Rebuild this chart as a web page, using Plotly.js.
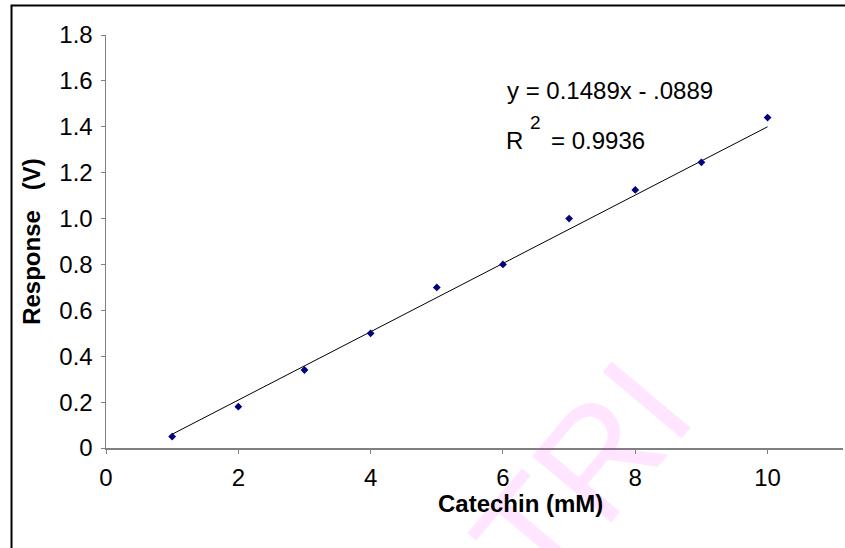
<!DOCTYPE html>
<html>
<head>
<meta charset="utf-8">
<script src="https://cdn.plot.ly/plotly-3.0.1.min.js"></script>
<style>html,body{margin:0;padding:0;background:#fff;}#chart{width:845px;height:548px;}</style>
</head>
<body>
<div id="chart"></div>
<script>
// Data
const catechin = [1, 2, 3, 4, 5, 6, 7, 8, 9, 10];
const response = [0.05, 0.18, 0.34, 0.50, 0.70, 0.80, 1.00, 1.125, 1.245, 1.44];
// Trendline as printed on the chart
const slope = 0.1489;
const intercept = -0.0889;
const trendX = [1, 10];
const trendY = trendX.map(x => slope * x + intercept);
// Tick labels
const xTickVals = [0, 2, 4, 6, 8, 10];
const xTickText = ['0', '2', '4', '6', '8', '10'];
const yTickVals = [0, 0.2, 0.4, 0.6, 0.8, 1.0, 1.2, 1.4, 1.6, 1.8];
const yTickText = ['0', '0.2', '0.4', '0.6', '0.8', '1.0', '1.2', '1.4', '1.6', '1.8'];

const font = 'Arial, "Liberation Sans", Helvetica, sans-serif';

const traces = [
  {
    x: trendX, y: trendY, mode: 'lines', type: 'scatter',
    line: {color: '#000000', width: 1}, hoverinfo: 'skip', showlegend: false
  },
  {
    x: catechin, y: response, mode: 'markers', type: 'scatter',
    marker: {symbol: 'diamond', size: 6, color: '#000080'}, showlegend: false
  }
];

const layout = {
  width: 845, height: 548,
  margin: {l: 106, r: 2, t: 35, b: 100},
  paper_bgcolor: '#ffffff', plot_bgcolor: '#ffffff',
  font: {family: font, color: '#000000', size: 24},
  showlegend: false,
  xaxis: {
    range: [0, 11.14], tickvals: xTickVals, ticktext: xTickText,
    showgrid: false, zeroline: false, showline: true, linecolor: '#808080', linewidth: 1.5,
    ticks: 'outside', ticklen: 4, tickcolor: '#808080', tickwidth: 1,
    tickfont: {family: font, size: 24, color: '#000000'}, ticklabelstandoff: 4
  },
  yaxis: {
    range: [0, 1.8], tickvals: yTickVals, ticktext: yTickText,
    showgrid: false, zeroline: false, showline: true, linecolor: '#808080', linewidth: 1.5,
    ticks: 'outside', ticklen: 4, tickcolor: '#808080', tickwidth: 1,
    tickfont: {family: font, size: 24, color: '#000000'}, ticklabelstandoff: 3,
    title: {text: '<b>Response   (V)</b>', font: {family: font, size: 24, color: '#000000'}, standoff: 12}
  },
  annotations: [
    {
      xref: 'paper', yref: 'paper', x: 0.646, y: -0.429, text: 'TRI', showarrow: false,
      textangle: -50, font: {family: font, size: 150, color: 'rgba(255,0,255,0.1)'}
    },
    {
      xref: 'paper', yref: 'paper', x: 0.563, y: -0.134, xanchor: 'center', yanchor: 'middle',
      text: '<b>Catechin (mM)</b>', showarrow: false, font: {family: font, size: 24, color: '#000000'}
    },
    {
      xref: 'paper', yref: 'paper', x: 0.5414, y: 0.8656, xanchor: 'left', yanchor: 'middle',
      text: 'y = 0.1489x - .0889', showarrow: false, font: {family: font, size: 24, color: '#000000'}
    },
    {
      xref: 'paper', yref: 'paper', x: 0.540, y: 0.745, xanchor: 'left', yanchor: 'middle',
      text: 'R', showarrow: false, font: {family: font, size: 24, color: '#000000'}
    },
    {
      xref: 'paper', yref: 'paper', x: 0.572, y: 0.789, xanchor: 'left', yanchor: 'middle',
      text: '2', showarrow: false, font: {family: font, size: 19, color: '#000000'}
    },
    {
      xref: 'paper', yref: 'paper', x: 0.601, y: 0.745, xanchor: 'left', yanchor: 'middle',
      text: '= 0.9936', showarrow: false, font: {family: font, size: 24, color: '#000000'}
    }
  ],
  shapes: [
    {type: 'path', xref: 'paper', yref: 'paper',
     path: 'M -0.1282,-0.25 L -0.1282,1.0714 L 1.01,1.0714',
     line: {color: '#000000', width: 2}}
  ]
};

Plotly.newPlot('chart', traces, layout, {displayModeBar: false, staticPlot: true});
</script>
</body>
</html>
